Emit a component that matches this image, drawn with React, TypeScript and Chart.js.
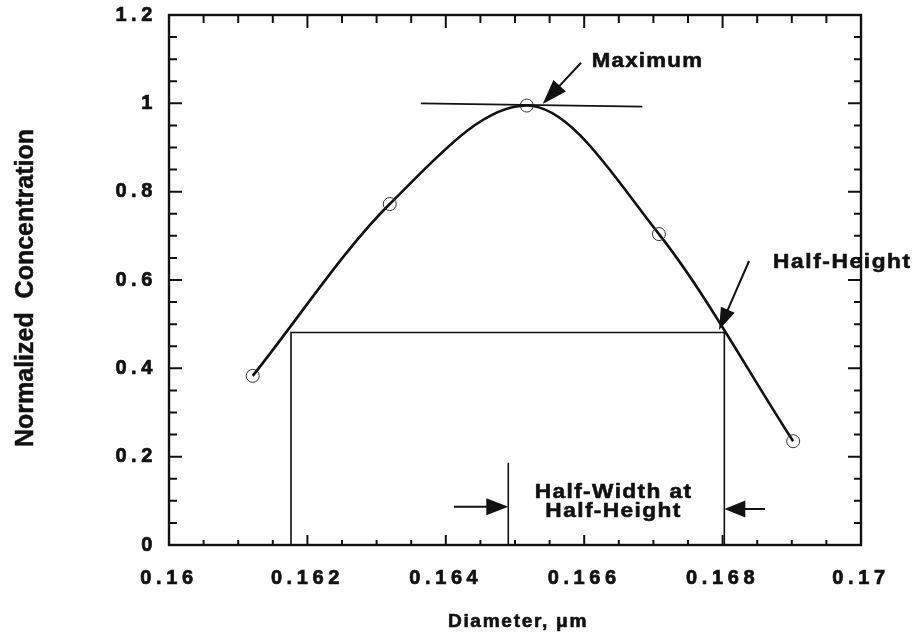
import React, { useEffect, useRef } from "react";
import { Chart, registerables } from "chart.js";

Chart.register(...registerables);

// Measured particle-size distribution (normalized to its peak)
const diameters = [0.16121, 0.16319, 0.16517, 0.16708, 0.16902];
const concentrations = [0.383, 0.772, 0.995, 0.704, 0.235];

// Axis ticks
const xTickValues = [0.16, 0.162, 0.164, 0.166, 0.168, 0.17];
const yTickValues = [0, 0.2, 0.4, 0.6, 0.8, 1, 1.2];
const xMinorStep = 0.0005;
const yMinorStep = 0.05;

const xTitle = "Diameter, \u03bcm";
const yTitle = "Normalized  Concentration";

// Construction lines for the half-width at half-height
const halfHeightLevel = 0.481;
const halfWidthEdges = [0.161763, 0.168025];
const halfWidthMarkX = 0.164903;
const halfWidthMarkTop = 0.186;
const maxTangentX = [0.16364, 0.16684];
const maxTangentY = [1.0, 0.9925];

// Annotation arrows: [tailX, tailY, tipX, tipY]
const maximumArrow = [0.165954, 1.092, 0.1654, 0.9985];
const halfHeightArrow = [0.168382, 0.643, 0.167948, 0.4868];
const leftWidthArrow = [0.164118, 0.0867, 0.164903, 0.0867];
const rightWidthArrow = [0.168613, 0.0815, 0.168025, 0.0815];

// Annotation labels
const maximumLabel = { text: "Maximum", x: 0.166108, y: 1.0816 };
const halfHeightLabel = { text: "Half-Height", x: 0.168728, y: 0.6265 };
const halfWidthLines = ["Half-Width at", "Half-Height"];
const halfWidthLabelX = 0.16641;
const halfWidthLabelY = [0.1057, 0.0641];

const FONT = "'Liberation Sans', Arial, Helvetica, sans-serif";
const INK = "#111111";

function drawArrow(
  ctx: CanvasRenderingContext2D,
  x0: number,
  y0: number,
  x1: number,
  y1: number,
  headLen: number,
  headHalf: number
) {
  const ang = Math.atan2(y1 - y0, x1 - x0);
  const c = Math.cos(ang);
  const s = Math.sin(ang);
  const bx = x1 - headLen * c;
  const by = y1 - headLen * s;
  ctx.beginPath();
  ctx.moveTo(x0, y0);
  ctx.lineTo(bx + 2 * c, by + 2 * s);
  ctx.lineWidth = 2;
  ctx.stroke();
  ctx.beginPath();
  ctx.moveTo(x1, y1);
  ctx.lineTo(bx - headHalf * s, by + headHalf * c);
  ctx.lineTo(bx + headHalf * s, by - headHalf * c);
  ctx.closePath();
  ctx.fill();
}

// bold text with a thin outline, optionally widened horizontally
function heavyText(
  ctx: CanvasRenderingContext2D,
  text: string,
  x: number,
  y: number,
  widen: number
) {
  ctx.save();
  ctx.translate(x, y);
  ctx.scale(widen, 1);
  ctx.lineWidth = 0.6;
  ctx.lineJoin = "round";
  ctx.fillText(text, 0, 0);
  ctx.strokeText(text, 0, 0);
  ctx.restore();
}

const notesPlugin = {
  id: "notesPlugin",
  beforeDraw(chart: any) {
    // wide tracking for tick labels
    (chart.ctx as any).letterSpacing = "4.6px";
  },
  afterDatasetsDraw(chart: any) {
    const ctx: CanvasRenderingContext2D = chart.ctx;
    const xs = chart.scales.x;
    const ys = chart.scales.y;
    const { left, right, top, bottom } = chart.chartArea;
    const px = (v: number) => xs.getPixelForValue(v);
    const py = (v: number) => ys.getPixelForValue(v);

    ctx.save();
    ctx.strokeStyle = INK;
    ctx.fillStyle = INK;
    ctx.lineCap = "butt";

    // frame
    ctx.lineWidth = 2.4;
    ctx.strokeRect(left, top, right - left, bottom - top);

    // inward ticks on all four sides
    ctx.lineWidth = 2;
    const nx = Math.round((xs.max - xs.min) / xMinorStep);
    for (let i = 1; i < nx; i++) {
      const x = px(xs.min + i * xMinorStep);
      const major = i % 4 === 0;
      ctx.beginPath();
      ctx.moveTo(x, bottom);
      ctx.lineTo(x, bottom - (major ? 10 : 5));
      ctx.moveTo(x, top);
      ctx.lineTo(x, top + (major ? 13 : 8));
      ctx.stroke();
    }
    const ny = Math.round((ys.max - ys.min) / yMinorStep);
    for (let i = 1; i < ny; i++) {
      const y = py(ys.min + i * yMinorStep);
      const major = i % 4 === 0;
      ctx.beginPath();
      ctx.moveTo(left, y);
      ctx.lineTo(left + (major ? 13 : 8), y);
      ctx.moveTo(right, y);
      ctx.lineTo(right - (major ? 13 : 7), y);
      ctx.stroke();
    }

    // tangent at the maximum
    ctx.lineWidth = 1.6;
    ctx.beginPath();
    ctx.moveTo(px(maxTangentX[0]), py(maxTangentY[0]));
    ctx.lineTo(px(maxTangentX[1]), py(maxTangentY[1]));
    ctx.stroke();

    // half-height box
    ctx.beginPath();
    ctx.moveTo(px(halfWidthEdges[0]), py(0));
    ctx.lineTo(px(halfWidthEdges[0]), py(halfHeightLevel));
    ctx.lineTo(px(halfWidthEdges[1]), py(halfHeightLevel));
    ctx.lineTo(px(halfWidthEdges[1]), py(0));
    ctx.moveTo(px(halfWidthMarkX), py(0));
    ctx.lineTo(px(halfWidthMarkX), py(halfWidthMarkTop));
    ctx.stroke();

    // arrows
    const arr = (a: number[], len: number, half: number) =>
      drawArrow(ctx, px(a[0]), py(a[1]), px(a[2]), py(a[3]), len, half);
    arr(maximumArrow, 25, 8.5);
    arr(halfHeightArrow, 22, 7.5);
    arr(leftWidthArrow, 22, 8.5);
    arr(rightWidthArrow, 21, 8.5);

    // annotation text
    const c = ctx as any;
    ctx.font = `bold 21px ${FONT}`;
    ctx.textBaseline = "alphabetic";
    ctx.textAlign = "left";
    c.letterSpacing = "1.2px";
    heavyText(ctx, maximumLabel.text, px(maximumLabel.x), py(maximumLabel.y), 1.06);
    c.letterSpacing = "1.5px";
    heavyText(ctx, halfHeightLabel.text, px(halfHeightLabel.x), py(halfHeightLabel.y), 1.08);
    ctx.textAlign = "center";
    c.letterSpacing = "1.3px";
    halfWidthLines.forEach((t, i) => {
      heavyText(ctx, t, px(halfWidthLabelX) + 1, py(halfWidthLabelY[i]), 1.08);
    });

    // axis titles
    ctx.font = `bold 18px ${FONT}`;
    c.letterSpacing = "1.6px";
    ctx.textAlign = "center";
    heavyText(ctx, xTitle, (left + right) / 2 + 3, bottom + 82, 1.06);

    ctx.font = `bold 25px ${FONT}`;
    c.letterSpacing = "0px";
    ctx.translate(left - 136.5, (top + bottom) / 2 + 8);
    ctx.rotate(-Math.PI / 2);
    ctx.lineWidth = 0.5;
    ctx.fillText(yTitle, 0, 0);
    ctx.strokeText(yTitle, 0, 0);
    ctx.restore();
  },
};

export default function App() {
  const canvasRef = useRef<HTMLCanvasElement | null>(null);

  useEffect(() => {
    document.body.style.margin = "0";
    const canvas = canvasRef.current;
    if (!canvas) return;

    const points = diameters.map((d, i) => ({ x: d, y: concentrations[i] }));

    const tickFont = { family: FONT, size: 20, weight: "bold" };

    const chart = new Chart(canvas, {
      type: "line",
      data: {
        datasets: [
          {
            data: points,
            borderColor: INK,
            borderWidth: 2.6,
            cubicInterpolationMode: "monotone",
            pointRadius: 6.5,
            pointBorderWidth: 1,
            pointBorderColor: "#333333",
            pointBackgroundColor: "rgba(0,0,0,0)",
            fill: false,
          },
        ],
      },
      options: {
        responsive: false,
        animation: false,
        events: [],
        layout: { padding: { top: 15, right: 51, left: 0, bottom: 0 } },
        plugins: {
          legend: { display: false },
          tooltip: { enabled: false },
        },
        scales: {
          x: {
            type: "linear",
            min: 0.16,
            max: 0.17,
            afterBuildTicks: (s: any) => {
              s.ticks = xTickValues.map((v) => ({ value: v }));
            },
            afterFit: (s: any) => {
              s.height = 97;
              s.paddingLeft = 0;
              s.paddingRight = 0;
            },
            grid: { display: false, drawTicks: false },
            border: { display: false },
            ticks: {
              autoSkip: false,
              maxRotation: 0,
              padding: 21,
              color: INK,
              textStrokeColor: INK,
              textStrokeWidth: 0.7,
              font: tickFont,
              callback: (v: any) => String(Number(v)),
            },
          },
          y: {
            type: "linear",
            min: 0,
            max: 1.2,
            afterBuildTicks: (s: any) => {
              s.ticks = yTickValues.map((v) => ({ value: v }));
            },
            afterFit: (s: any) => {
              s.width = 169;
              s.paddingTop = 0;
              s.paddingBottom = 0;
            },
            grid: { display: false, drawTicks: false },
            border: { display: false },
            ticks: {
              padding: 12,
              color: INK,
              textStrokeColor: INK,
              textStrokeWidth: 0.7,
              font: tickFont,
              callback: (v: any) => String(Number(v)),
            },
          },
        },
      },
      plugins: [notesPlugin],
    } as any);

    return () => chart.destroy();
  }, []);

  return (
    <div style={{ width: 912, height: 642, background: "#ffffff" }}>
      <canvas ref={canvasRef} width={912} height={642} style={{ display: "block" }} />
    </div>
  );
}
